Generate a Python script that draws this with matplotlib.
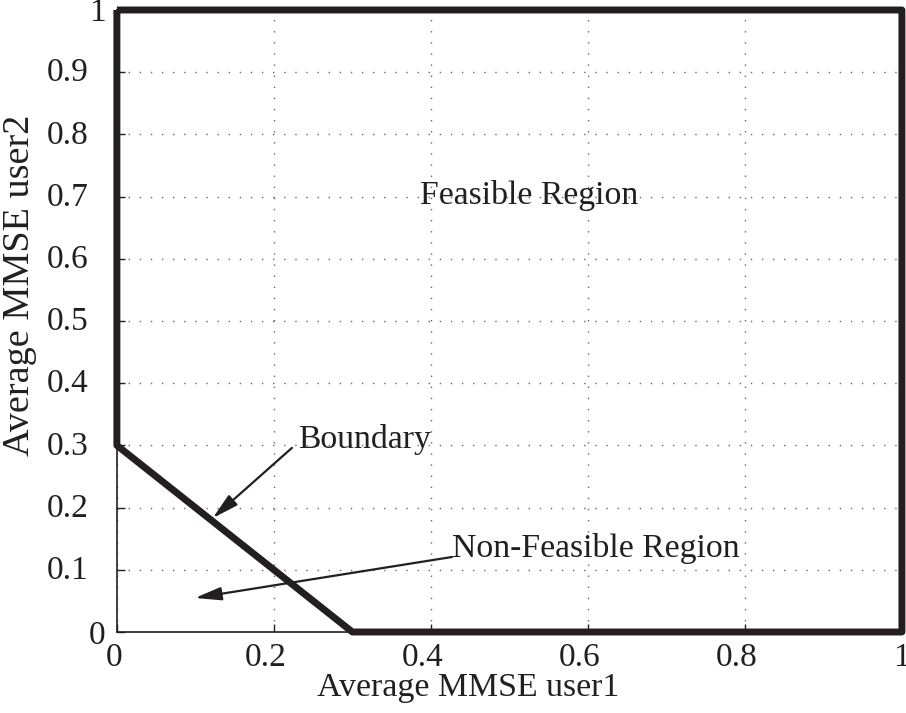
import numpy as np
import matplotlib.pyplot as plt

plt.rcParams['font.family'] = ['Liberation Serif', 'DejaVu Serif']
INK = '#231f20'

# boundary of the feasible MMSE region (user1, user2)
bound_x = [0.0, 0.0, 0.3, 1.0, 1.0, 0.0]
bound_y = [1.0, 0.3, 0.0, 0.0, 1.0, 1.0]

yticks = [0, 0.1, 0.2, 0.3, 0.4, 0.5, 0.6, 0.7, 0.8, 0.9, 1]
ylabels = ['0', '0.1', '0.2', '0.3', '0.4', '0.5', '0.6', '0.7', '0.8', '0.9', '1']
xticks = [0, 0.2, 0.4, 0.6, 0.8, 1]
xlabels = ['0', '0.2', '0.4', '0.6', '0.8', '1']

fig = plt.figure(figsize=(9.06, 7.13), dpi=100)
ax = fig.add_axes([0.129, 0.1136, 0.8665, 0.8724])

ax.plot(bound_x, bound_y, color=INK, lw=5, solid_capstyle='butt', clip_on=False, zorder=3)

ax.set_xlim(0, 1)
ax.set_ylim(0, 1)
ax.set_xticks(xticks)
ax.set_yticks(yticks)
ax.set_xticklabels([])
ax.set_yticklabels([])
ax.tick_params(direction='in', length=6, width=1, colors=INK)
ax.grid(True, linestyle=(0, (1, 7)), color='#666666', lw=1)
for s in ax.spines.values():
    s.set_linewidth(1.2)
    s.set_color(INK)

# tick labels placed by hand (offsets in pixels at 100 dpi)
px = 0.72
for v, lab in zip(yticks, ylabels):
    dx = -11 if lab in ('0', '1') else -28
    dy = -4 if lab == '0' else (-3 if lab == '1' else -1)
    ax.annotate(lab, xy=(0, v), xycoords=('axes fraction', 'data'),
                xytext=(dx * px, dy * px), textcoords='offset points',
                ha='right', va='center', fontsize=24, color=INK, annotation_clip=False)
for v, lab in zip(xticks, xlabels):
    dx = -3 if lab == '0' else (0 if lab == '1' else -8)
    ax.annotate(lab, xy=(v, 0), xycoords=('data', 'axes fraction'),
                xytext=(dx * px, -26 * px), textcoords='offset points',
                ha='center', va='center', fontsize=24, color=INK, annotation_clip=False)

ax.set_xlabel('Average MMSE user1', fontsize=24.4, color=INK)
ax.xaxis.set_label_coords(0.447, -0.09)
ax.xaxis.label.set_va('center')
ax.set_ylabel('Average MMSE user2', fontsize=27.5, color=INK)
ax.yaxis.set_label_coords(-0.1236, 0.558)
ax.yaxis.label.set_va('center')

ax.text(0.386, 0.688, 'Feasible Region', fontsize=24.3, ha='left', va='baseline', color=INK)
ax.text(0.2306, 0.296, 'Boundary', fontsize=24.3, ha='left', va='baseline', color=INK)
ax.text(0.4268, 0.1206, 'Non-Feasible Region', fontsize=24.3, ha='left', va='baseline', color=INK)

arrow = dict(arrowstyle='-|>,head_length=1.6,head_width=0.4', mutation_scale=10,
             color=INK, lw=1.6, shrinkA=0, shrinkB=0)
ax.annotate('', xy=(0.122, 0.183), xytext=(0.223, 0.296), arrowprops=arrow)
ax.annotate('', xy=(0.0994, 0.0547), xytext=(0.4268, 0.1206), arrowprops=arrow)

fig.savefig('out.png', dpi=100)
